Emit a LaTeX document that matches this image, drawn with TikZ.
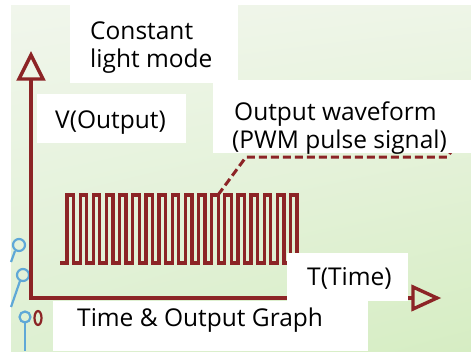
\documentclass[tikz,border=0pt]{standalone}
\usepackage{fontspec}
\setmainfont{Open Sans}
\usetikzlibrary{shadings}
\definecolor{axisred}{RGB}{140,36,38}
\definecolor{circblue}{RGB}{95,168,215}
\definecolor{bgtl}{RGB}{241,246,236}
\definecolor{bgtr}{RGB}{238,245,231}
\definecolor{bgbl}{RGB}{222,240,210}
\definecolor{bgbr}{RGB}{214,237,195}
\begin{document}
\begin{tikzpicture}[x=1pt,y=-1pt,
  axisline/.style={draw=axisred,line width=3.4pt,line join=miter},
  pulseline/.style={draw=axisred,line width=3.3pt,line join=miter},
  pointer/.style={draw=axisred,line width=3pt,dash pattern=on 8pt off 4pt},
  circ/.style={draw=circblue,line width=2.2pt},
  whitebox/.style={fill=white},
  lbl/.style={anchor=base west,inner sep=0pt,font=\fontsize{24.5}{28}\selectfont,text=black}]
\useasboundingbox (0,0) rectangle (471,351);
\fill[white] (0,0) rectangle (471,351);
\shade[upper left=bgtl,upper right=bgtr,lower left=bgbl,lower right=bgbr] (11,5) rectangle (471,351);
% circuit decoration
\draw[circ] (19,245) circle [radius=6pt];
\draw[circ] (15,251) -- (11,262);
\draw[circ] (23,275) circle [radius=6pt];
\draw[circ] (20,281) -- (11,307);
\draw[circ] (25,317) circle [radius=5.5pt];
\draw[circ] (25,323) -- (25,351);
\draw[draw=axisred,line width=2.2pt] (38,318) ellipse [x radius=3.5pt, y radius=7pt];
% axes
\coordinate (ybase) at (31,79);
\coordinate (xbase) at (413,298);
\draw[axisline] (ybase) |- (xbase);
\draw[axisline] (31,55) -- (19,79) -- (43,79) -- cycle;
\draw[axisline] (413,287) -- (437,298) -- (413,309) -- cycle;
% pulse train
\draw[pulseline] (60,263) -- (67,263)
  foreach \i in {0,...,17} { -- ++(0,-68) -- ++(6.5,0) -- ++(0,68) -- ++(6.65,0) };
% pointer
\coordinate (ptop) at (218,195);
\coordinate (pbend) at (246,157);
\coordinate (pend) at (447,157);
\draw[pointer] (ptop) -- (pbend) -- (pend) -- (470,128);
% white boxes
\fill[whitebox] (70,5) rectangle (238,83);
\fill[whitebox] (213,80) rectangle (471,153);
\fill[whitebox] (37,94) rectangle (186,143);
\fill[whitebox] (287,253) rectangle (408,301);
\fill[whitebox] (53,301) rectangle (368,351);
% labels
\node[lbl] (const1) at (90,39) {Constant};
\node[lbl] (const2) at (90,67) {light mode};
\node[lbl] (vout) at (55,128) {V(Output)};
\node[lbl] (wave1) at (234,120.5) {Output waveform};
\node[lbl] (wave2) at (232,148) {(PWM pulse signal)};
\node[lbl] (ttime) at (307,285) {T(Time)};
\node[lbl] (graph) at (77,326.5) {Time \& Output Graph};
\end{tikzpicture}
\end{document}
